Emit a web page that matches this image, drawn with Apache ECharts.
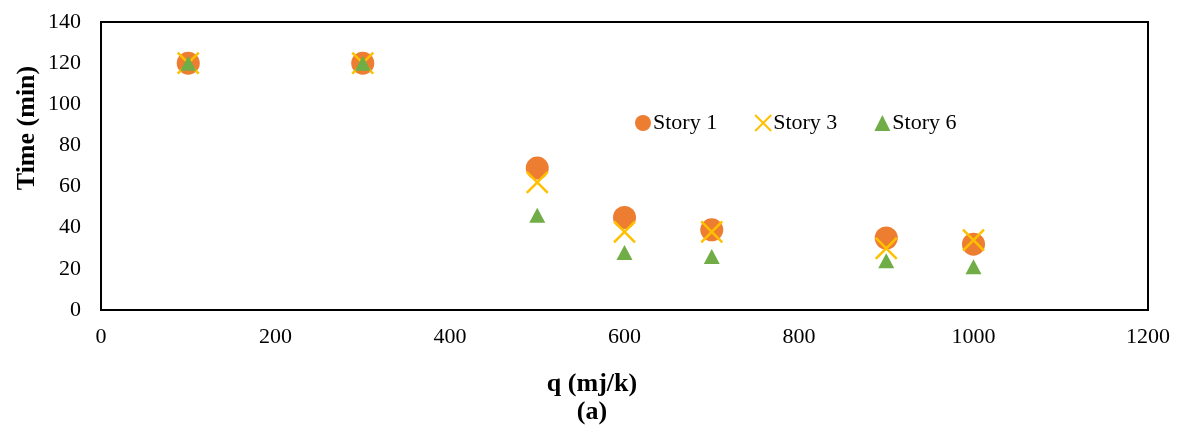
<!DOCTYPE html>
<html><head><meta charset="utf-8">
<script src="https://cdn.jsdelivr.net/npm/echarts@6/dist/echarts.min.js"></script>
<style>html,body{margin:0;padding:0;background:#fff}#c{width:1178px;height:430px}</style>
</head><body><div id="c"></div>
<script>
const xValues = [100, 300, 500, 600, 700, 900, 1000];
const story1 = [120, 120, 69, 45, 39, 35, 32];
const story3 = [120, 120, 62, 38, 38, 30, 34];
const story6 = [120, 120, 46, 28, 26, 24, 21];
const seriesNames = ['Story 1', 'Story 3', 'Story 6'];
const xTitle = 'q (mj/k)';
const yTitle = 'Time (min)';
const subTitle = '(a)';

const FONT = '"Liberation Serif", "Times New Roman", serif';
const pair = (ys) => xValues.map((x, i) => [x, ys[i]]);
const chart = echarts.init(document.getElementById('c'));
chart.setOption({
  animation: false,
  backgroundColor: '#fff',
  grid: { left: 101, top: 22, right: 30, bottom: 120, show: true, borderColor: '#000', borderWidth: 2, backgroundColor: 'transparent' },
  xAxis: {
    type: 'value', min: 0, max: 1200, interval: 200,
    axisLine: { show: false }, axisTick: { show: false }, splitLine: { show: false },
    axisLabel: { color: '#000', fontFamily: FONT, fontSize: 22, margin: 16, formatter: (v) => String(v) }
  },
  yAxis: {
    type: 'value', min: 0, max: 140, interval: 20,
    axisLine: { show: false }, axisTick: { show: false }, splitLine: { show: false },
    axisLabel: { color: '#000', fontFamily: FONT, fontSize: 22, margin: 20, formatter: (v) => String(v) }
  },
  legend: {
    left: 630, top: 107, itemGap: 37, itemWidth: 16, itemHeight: 16,
    textStyle: { color: '#000', fontFamily: FONT, fontSize: 22, padding: [0, 0, 0, -3] },
    data: seriesNames
  },
  graphic: [
    { type: 'text', style: { text: xTitle, font: 'bold 26px ' + FONT, fill: '#000', textAlign: 'center', textVerticalAlign: 'middle' }, x: 592, y: 384 },
    { type: 'text', style: { text: subTitle, font: 'bold 26px ' + FONT, fill: '#000', textAlign: 'center', textVerticalAlign: 'middle' }, x: 592, y: 412 },
    { type: 'text', style: { text: yTitle, font: 'bold 26px ' + FONT, fill: '#000', textAlign: 'center', textVerticalAlign: 'middle' }, x: 27, y: 128, rotation: Math.PI / 2 }
  ],
  series: [
    { name: seriesNames[0], type: 'scatter', data: pair(story1), symbol: 'circle', symbolSize: 23, itemStyle: { color: '#ED7D31', opacity: 1 }, z: 2 },
    { name: seriesNames[1], type: 'scatter', data: pair(story3), symbol: 'path://M0,0L10,10M10,0L0,10', symbolSize: 21, itemStyle: { color: 'rgba(0,0,0,0)', borderColor: '#FFC000', borderWidth: 2.5, opacity: 1 }, z: 3 },
    { name: seriesNames[2], type: 'scatter', data: pair(story6), symbol: 'triangle', symbolSize: [16, 15], itemStyle: { color: '#70AD47', opacity: 1 }, z: 4 }
  ]
});
</script></body></html>
